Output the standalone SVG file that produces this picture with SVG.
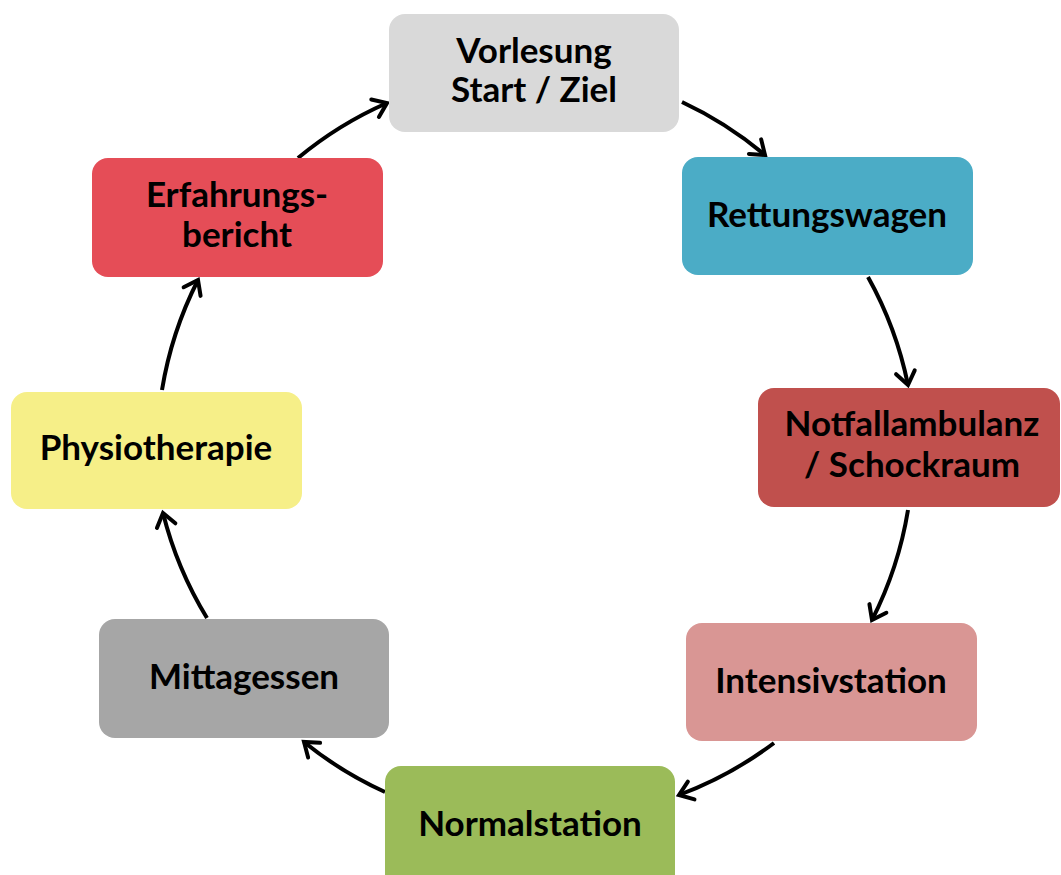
<svg xmlns="http://www.w3.org/2000/svg" width="1061" height="875" viewBox="0 0 1061 875">
<style>
.box{stroke:none}
.lbl{font-family:Lato,"Liberation Sans",sans-serif;font-weight:bold;font-size:35px;fill:#000;text-anchor:middle}
.arc{fill:none;stroke:#000;stroke-width:4;marker-end:url(#ah)}
</style>
<defs>
<marker id="ah" viewBox="-18 -13 22 26" markerWidth="22" markerHeight="26" refX="0" refY="0" orient="auto" markerUnits="userSpaceOnUse">
<path d="M-13,-9.5 L0,0 L-13,9.5" fill="none" stroke="#000" stroke-width="4" stroke-linejoin="miter" stroke-linecap="round"/>
</marker>
</defs>
<rect width="1061" height="875" fill="#fff"/>
<g id="connectors">
<path class="arc" d="M682,102 A376,376 0 0 1 765,155"/>
<path class="arc" d="M868,277 A376,376 0 0 1 908,385"/>
<path class="arc" d="M908,510 A376,376 0 0 1 872,620"/>
<path class="arc" d="M774,743 A376,376 0 0 1 679,795"/>
<path class="arc" d="M385,792 A376,376 0 0 1 304,742"/>
<path class="arc" d="M207,618 A376,376 0 0 1 163,513"/>
<path class="arc" d="M162,390 A376,376 0 0 1 198,280"/>
<path class="arc" d="M298,158 A376,376 0 0 1 387,103"/>
</g>
<g id="n-vorlesung">
<rect class="box" x="389" y="14" width="290" height="118" rx="16" fill="#D9D9D9"/>
<text class="lbl" x="534" y="63">Vorlesung</text>
<text class="lbl" x="534" y="102">Start / Ziel</text>
</g>
<g id="n-rettungswagen">
<rect class="box" x="682" y="157" width="291" height="118" rx="16" fill="#4BACC6"/>
<text class="lbl" x="827" y="227">Rettungswagen</text>
</g>
<g id="n-notfall">
<rect class="box" x="758" y="388" width="302" height="119" rx="16" fill="#C0504D"/>
<text class="lbl" x="912" y="436">Notfallambulanz</text>
<text class="lbl" x="912" y="477">/ Schockraum</text>
</g>
<g id="n-intensiv">
<rect class="box" x="686" y="623" width="291" height="118" rx="16" fill="#D99694"/>
<text class="lbl" x="831" y="693">Intensivstation</text>
</g>
<g id="n-normal">
<rect class="box" x="385" y="766" width="290" height="124" rx="16" fill="#9BBB59"/>
<text class="lbl" x="530" y="836">Normalstation</text>
</g>
<g id="n-mittag">
<rect class="box" x="99" y="619" width="290" height="119" rx="16" fill="#A6A6A6"/>
<text class="lbl" x="244" y="689">Mittagessen</text>
</g>
<g id="n-physio">
<rect class="box" x="11" y="392" width="291" height="117" rx="16" fill="#F6EF88"/>
<text class="lbl" x="156" y="460">Physiotherapie</text>
</g>
<g id="n-erfahrung">
<rect class="box" x="92" y="158" width="291" height="119" rx="16" fill="#E54D57"/>
<text class="lbl" x="237" y="207">Erfahrungs-</text>
<text class="lbl" x="237" y="247">bericht</text>
</g>
</svg>
